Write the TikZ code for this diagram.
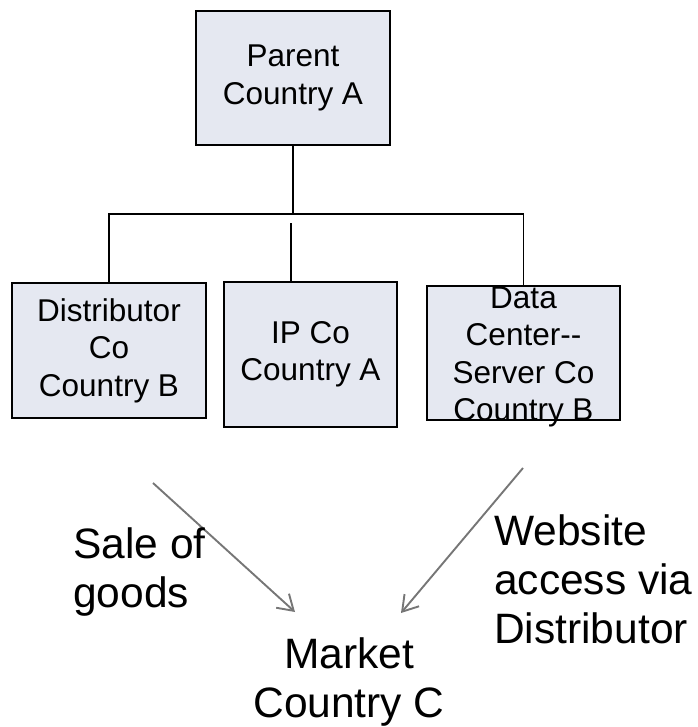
\documentclass[tikz,border=0pt]{standalone}
\usepackage{fontspec}
\setmainfont{Liberation Sans}
\usetikzlibrary{arrows.meta}
\definecolor{boxfill}{RGB}{229,232,241}
\definecolor{flowgray}{RGB}{118,118,118}
\begin{document}
\begin{tikzpicture}[x=1pt,y=-1pt,
box/.style={%
draw,
line width=2.6pt,
fill=boxfill,
inner sep=0pt,
align=center,
font=\fontsize{31.5}{37.5}\selectfont
},
boxtext/.style={%
inner sep=0pt,
align=center,
font=\fontsize{31.5}{37.5}\selectfont
},
bigtext/.style={%
inner sep=0pt,
font=\fontsize{42.5}{49}\selectfont
},
link/.style={%
line width=1.3pt
},
flow/.style={%
draw=flowgray,
line width=1.9pt,
-{Straight Barb[length=15pt,width=19pt]}
},
]
\useasboundingbox (0,0) rectangle (697,727);
%% Boxes
\node[box,minimum width=194pt,minimum height=134pt] (parent) at (293,78) {Parent\\Country A};
\node[box,minimum width=194pt,minimum height=135pt] (dist) at (109,350.5) {Distributor\\Co\\Country B};
\node[box,minimum width=173pt,minimum height=145pt] (ip) at (310.5,354.5) {IP Co\\Country A};
\node[box,minimum width=193pt,minimum height=134pt] (data) at (523.5,353) {};
\node[boxtext] (datatext) at (523.5,357) {Data\\Center-{}-\\Server Co\\Country B};
%% Tree lines
\coordinate (bus) at (293,214);
\coordinate (ipstub) at (291,223);
\draw[link] (parent.south) -- (bus);
\draw[link] (dist.north) |- (bus) -| (data.north);
\draw[link] (ipstub) -- (ipstub |- ip.north);
%% Flows
\coordinate (salefrom) at (153,483);
\coordinate (saleto) at (295,612);
\coordinate (webfrom) at (523,468);
\coordinate (webto) at (401,613);
\draw[flow] (salefrom) -- (saleto);
\draw[flow] (webfrom) -- (webto);
%% Texts
\node[bigtext,align=left,anchor=west] (sale) at (73,572) {Sale of\\goods};
\node[bigtext,align=left,anchor=west] (web) at (494,579) {Website\\access via\\Distributor};
\node[bigtext,align=center] (market) at (349,682) {Market\\Country C};
\end{tikzpicture}
\end{document}
